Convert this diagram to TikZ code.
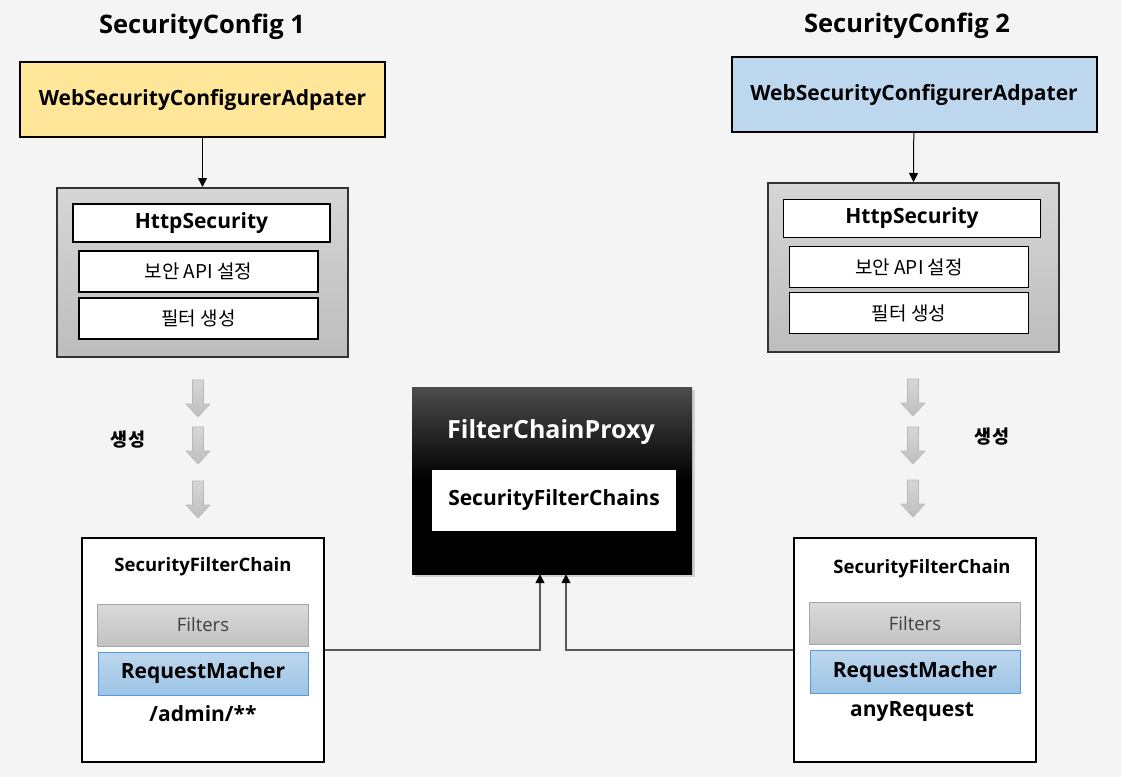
\documentclass[tikz,border=0pt]{standalone}
\usepackage{fontspec}
\setmainfont{Open Sans}
\newfontfamily\krfont{Noto Sans CJK KR}
\usepackage{tikz}
\usepackage{xcolor}
\usetikzlibrary{arrows.meta,positioning,shadows}
\definecolor{bgcol}{HTML}{F4F4F4}
\definecolor{cfgyellow}{HTML}{FFE699}
\definecolor{cfgblue}{HTML}{BDD7EE}
\definecolor{httptop}{HTML}{D6D6D6}
\definecolor{httpbot}{HTML}{BDBDBD}
\definecolor{filtop}{HTML}{DADADA}
\definecolor{filbot}{HTML}{C2C2C2}
\definecolor{filline}{HTML}{A6A6A6}
\definecolor{filtext}{HTML}{404040}
\definecolor{rmtop}{HTML}{BDD7EE}
\definecolor{rmbot}{HTML}{9DC3E6}
\definecolor{rmline}{HTML}{5B9BD5}
\definecolor{linkcol}{HTML}{595959}
\definecolor{gentop}{HTML}{D6D6D6}
\definecolor{genbot}{HTML}{BFBFBF}
\definecolor{genline}{HTML}{B8B8B8}

\begin{document}
\begin{tikzpicture}[x=1pt,y=-1pt,>={Triangle[width=9pt,length=9pt,black]},
    every node/.style={inner sep=0pt},
    title/.style={font={\fontsize{25.5pt}{28}\selectfont\bfseries}},
    config/.style={draw,line width=2pt,minimum width=365pt,minimum height=75pt,
      font={\fontsize{21pt}{24}\selectfont\bfseries}},
    http/.style={draw=black!80,line width=2pt,top color=httptop,bottom color=httpbot,
      minimum width=291pt,minimum height=169pt},
    hsbox/.style={draw,fill=white,line width=1.5pt,minimum width=257pt,minimum height=38pt,
      font={\fontsize{21pt}{24}\selectfont\bfseries}},
    krbox/.style={draw,fill=white,line width=1.5pt,minimum width=239pt,minimum height=41pt,
      font={\krfont\fontsize{19pt}{22}\selectfont}},
    chain/.style={draw,fill=white,line width=2pt,minimum width=242pt,minimum height=224pt},
    chaintitle/.style={font={\fontsize{18.5pt}{22}\selectfont\bfseries}},
    filters/.style={draw=filline,line width=1pt,top color=filtop,bottom color=filbot,
      minimum width=211pt,minimum height=42pt,text=filtext,font={\fontsize{18.5pt}{22}\selectfont}},
    matcher/.style={draw=rmline,line width=1pt,top color=rmtop,bottom color=rmbot,
      minimum width=210pt,minimum height=43pt,font={\fontsize{21pt}{24}\selectfont\bfseries}},
    pattern/.style={font={\fontsize{21pt}{24}\selectfont\bfseries}},
    gen/.style={font={\krfont\fontsize{18.5pt}{22}\selectfont\bfseries}},
    link/.style={draw=linkcol,line width=1.5pt,->},
    genarrow/.pic={\path[draw=genline,line width=0.6pt,top color=gentop,bottom color=genbot]
      (-5.5,0) -- (5.5,0) -- (5.5,24) -- (12,24) -- (0,37) -- (-12,24) -- (-5.5,24) -- cycle;}]

  \useasboundingbox[fill=bgcol] (0,0) rectangle (1121,777);

  % SecurityConfig 1
  \node[title] (title1) at (202,27) {SecurityConfig 1};
  \node[config,fill=cfgyellow] (cfg1) at (202.5,99.5) {WebSecurityConfigurerAdpater};
  \node[http] (http1) at (202.5,272.5) {};
  \node[hsbox] (hs1) at (201.5,223) {HttpSecurity};
  \node[krbox] (api1) at (198.5,271.5) {보안 API 설정};
  \node[krbox] (flt1) at (198.5,318.5) {필터 생성};
  \draw[->,line width=1pt] (cfg1) -- (http1);

  \foreach \y in {380,427,481}
    \pic at (198,\y) {genarrow};
  \node[gen] (gen1) at (128,440) {생성};

  \node[chain] (sfc1) at (202.5,650) {};
  \node[chaintitle] (sfct1) at (203,567) {SecurityFilterChain};
  \node[filters] (fs1) at (203,625) {Filters};
  \node[matcher] (rm1) [below=5pt of fs1] {RequestMacher};
  \node[pattern] (pat1) at (203,714) {/admin/**};

  % FilterChainProxy
  \node[minimum width=280pt,minimum height=187pt,top color=black!70,bottom color=black,
        middle color=black,drop shadow={shadow xshift=3pt,shadow yshift=-3pt,opacity=0.3}]
        (fcp) at (552,480.5) {};
  \node[font={\fontsize{25pt}{28}\selectfont\bfseries},text=white] (fcpt) at (551,432) {FilterChainProxy};
  \node[fill=white,minimum width=244pt,minimum height=61pt,
        font={\fontsize{21pt}{24}\selectfont\bfseries}] (chains) at (554,500.5) {SecurityFilterChains};

  % SecurityConfig 2
  \node[title] (title2) at (907,26) {SecurityConfig 2};
  \node[config,fill=cfgblue] (cfg2) at (914,94.5) {WebSecurityConfigurerAdpater};
  \node[http] (http2) at (913,267.5) {};
  \node[hsbox] (hs2) at (912,218.5) {HttpSecurity};
  \node[krbox] (api2) at (909,267) {보안 API 설정};
  \node[krbox] (flt2) at (909,313) {필터 생성};
  \draw[->,line width=1pt] (cfg2) -- (http2);

  \foreach \y in {379,427,480}
    \pic at (913,\y) {genarrow};
  \node[gen] (gen2) at (992,437) {생성};

  \node[chain] (sfc2) at (914.5,650) {};
  \node[chaintitle] (sfct2) at (922,569) {SecurityFilterChain};
  \node[filters] (fs2) at (915,623.5) {Filters};
  \node[matcher] (rm2) [below=5pt of fs2] {RequestMacher};
  \node[pattern] (pat2) at (912,712) {anyRequest};

  % links
  \draw[link] (sfc1.east) -| ([xshift=-12pt]fcp.south);
  \draw[link] (sfc2.west) -| ([xshift=14pt]fcp.south);
\end{tikzpicture}
\end{document}
